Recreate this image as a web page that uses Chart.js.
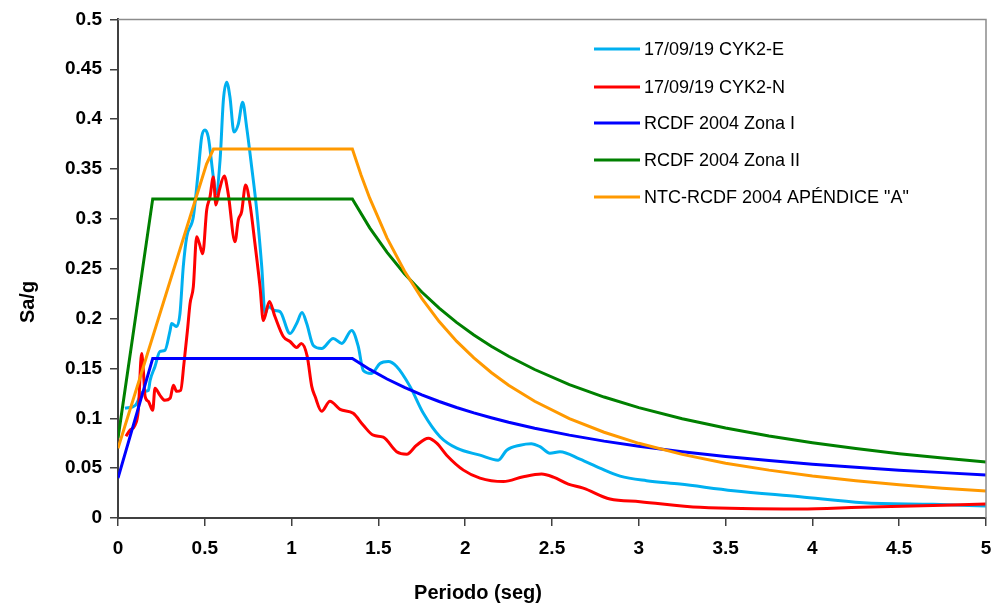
<!DOCTYPE html>
<html>
<head>
<meta charset="utf-8">
<script src="https://cdn.jsdelivr.net/npm/chart.js@4"></script>
<style>
  body { margin: 0; background: #fff; }
  canvas { display: block; }
</style>
</head>
<body>
<canvas id="chart" width="992" height="604"></canvas>
<script>
// Espectros registrados
const periodoE = [0.04, 0.10, 0.145, 0.175, 0.185, 0.213, 0.242, 0.27, 0.30, 0.309, 0.338, 0.357, 0.376, 0.396, 0.434, 0.463, 0.482, 0.501, 0.52, 0.549, 0.564, 0.588, 0.607, 0.626, 0.645, 0.668, 0.693, 0.718, 0.741, 0.77, 0.799, 0.828, 0.847, 0.866, 0.904, 0.933, 0.991, 1.029, 1.06, 1.087, 1.125, 1.173, 1.24, 1.289, 1.346, 1.384, 1.413, 1.46, 1.509, 1.557, 1.605, 1.682, 1.759, 1.855, 1.951, 2.085, 2.19, 2.239, 2.316, 2.38, 2.431, 2.488, 2.546, 2.661, 2.776, 2.892, 3.045, 3.237, 3.545, 3.929, 4.293, 4.697, 5.0];
const saE = [0.110, 0.113, 0.127, 0.128, 0.138, 0.152, 0.167, 0.168, 0.188, 0.195, 0.192, 0.205, 0.252, 0.282, 0.302, 0.349, 0.382, 0.389, 0.382, 0.342, 0.325, 0.359, 0.419, 0.437, 0.422, 0.387, 0.395, 0.417, 0.392, 0.352, 0.309, 0.252, 0.205, 0.212, 0.208, 0.207, 0.185, 0.195, 0.206, 0.195, 0.173, 0.170, 0.180, 0.175, 0.188, 0.172, 0.148, 0.145, 0.155, 0.157, 0.152, 0.132, 0.105, 0.0815, 0.070, 0.063, 0.058, 0.068, 0.073, 0.0745, 0.0715, 0.065, 0.0665, 0.059, 0.050, 0.042, 0.0374, 0.034, 0.0274, 0.0214, 0.0154, 0.0137, 0.012];

const periodoN = [0.046, 0.069, 0.098, 0.117, 0.136, 0.146, 0.156, 0.175, 0.20, 0.213, 0.242, 0.27, 0.30, 0.319, 0.338, 0.361, 0.38, 0.40, 0.415, 0.434, 0.453, 0.469, 0.488, 0.511, 0.53, 0.549, 0.564, 0.584, 0.612, 0.635, 0.674, 0.693, 0.712, 0.735, 0.76, 0.789, 0.818, 0.837, 0.872, 0.904, 0.952, 0.991, 1.029, 1.056, 1.09, 1.116, 1.135, 1.173, 1.221, 1.279, 1.355, 1.413, 1.471, 1.528, 1.605, 1.663, 1.72, 1.788, 1.836, 1.893, 1.99, 2.085, 2.22, 2.335, 2.44, 2.508, 2.594, 2.68, 2.834, 3.007, 3.353, 3.929, 4.274, 5.0];
const saN = [0.082, 0.088, 0.093, 0.108, 0.165, 0.148, 0.122, 0.117, 0.108, 0.130, 0.123, 0.118, 0.120, 0.133, 0.127, 0.128, 0.155, 0.188, 0.215, 0.232, 0.282, 0.275, 0.265, 0.309, 0.322, 0.342, 0.314, 0.329, 0.343, 0.325, 0.277, 0.299, 0.307, 0.334, 0.315, 0.275, 0.232, 0.198, 0.217, 0.202, 0.182, 0.177, 0.171, 0.175, 0.162, 0.132, 0.122, 0.107, 0.117, 0.109, 0.105, 0.093, 0.083, 0.081, 0.0665, 0.064, 0.073, 0.080, 0.075, 0.063, 0.048, 0.040, 0.0365, 0.0414, 0.044, 0.041, 0.034, 0.030, 0.019, 0.0164, 0.0107, 0.009, 0.0107, 0.014];

// Espectros de diseño
const periodoDiseno = [0, 0.2, 1.35, 1.45, 1.55, 1.65, 1.75, 1.85, 1.95, 2.05, 2.15, 2.25, 2.4, 2.6, 2.8, 3.0, 3.25, 3.5, 3.75, 4.0, 4.25, 4.5, 4.75, 5.0];
const saZonaI = [0.04, 0.16, 0.16, 0.149, 0.1394, 0.1309, 0.1234, 0.1168, 0.1108, 0.1054, 0.1005, 0.096, 0.09, 0.0831, 0.0771, 0.072, 0.0665, 0.0617, 0.0576, 0.054, 0.0508, 0.048, 0.0455, 0.0432];
const saZonaII = [0.08, 0.32, 0.32, 0.291, 0.2663, 0.245, 0.2266, 0.2105, 0.1962, 0.1836, 0.1723, 0.1622, 0.1489, 0.1338, 0.1213, 0.1107, 0.0995, 0.0902, 0.0822, 0.0755, 0.0696, 0.0645, 0.0601, 0.0561];

const periodoNTC = [0, 0.51, 0.55, 1.35, 1.4, 1.45, 1.55, 1.65, 1.75, 1.85, 1.95, 2.05, 2.15, 2.25, 2.4, 2.6, 2.8, 3.0, 3.25, 3.5, 3.75, 4.0, 4.25, 4.5, 4.75, 5.0];
const saNTC = [0.07, 0.355, 0.37, 0.37, 0.344, 0.3207, 0.2807, 0.2477, 0.2202, 0.197, 0.1773, 0.1605, 0.1459, 0.1332, 0.1171, 0.0997, 0.086, 0.0749, 0.0638, 0.055, 0.048, 0.0421, 0.0373, 0.0333, 0.0299, 0.027];

const etiquetas = ["17/09/19 CYK2-E", "17/09/19 CYK2-N", "RCDF 2004 Zona I", "RCDF 2004 Zona II", 'NTC-RCDF 2004 APÉNDICE "A"'];
const colores = ["#00B0F0", "#FF0000", "#0000FF", "#008000", "#FF9900"];

const puntos = (xs, ys) => xs.map((x, i) => ({ x: x, y: ys[i] }));

const FONT = "'Liberation Sans', Arial, sans-serif";
const AXIS = "#404040";

// Leyenda dentro del área de trazado
const leyendaPlugin = {
  id: "leyenda",
  afterDraw(chart) {
    const ctx = chart.ctx;
    const { left, top, right, bottom } = chart.chartArea;
    // marco superior y derecho
    ctx.save();
    ctx.strokeStyle = "#8c8c8c";
    ctx.lineWidth = 1.5;
    ctx.beginPath();
    ctx.moveTo(left, top);
    ctx.lineTo(right, top);
    ctx.lineTo(right, bottom);
    ctx.stroke();

    const filas = [49, 87, 123, 160, 197];
    chart.data.datasets.forEach((ds, i) => {
      ctx.strokeStyle = ds.borderColor;
      ctx.lineWidth = 3;
      ctx.beginPath();
      ctx.moveTo(594, filas[i]);
      ctx.lineTo(640, filas[i]);
      ctx.stroke();
      ctx.fillStyle = "#000";
      ctx.font = "18px " + FONT;
      ctx.textBaseline = "middle";
      ctx.textAlign = "left";
      ctx.fillText(ds.label, 644, filas[i] + 1);
    });

    // títulos de ejes
    ctx.font = "bold 20px " + FONT;
    ctx.fillStyle = "#000";
    ctx.textAlign = "center";
    ctx.textBaseline = "middle";
    ctx.fillText("Periodo (seg)", 478, 593);
    ctx.translate(28, 302);
    ctx.rotate(-Math.PI / 2);
    ctx.fillText("Sa/g", 0, 0);
    ctx.restore();
  },
};

const fmt = (v) => String(Math.round(v * 100) / 100);

new Chart(document.getElementById("chart"), {
  type: "line",
  data: {
    datasets: [
      { label: etiquetas[0], data: puntos(periodoE, saE), borderColor: colores[0], cubicInterpolationMode: "monotone", order: 5 },
      { label: etiquetas[1], data: puntos(periodoN, saN), borderColor: colores[1], cubicInterpolationMode: "monotone", order: 4 },
      { label: etiquetas[2], data: puntos(periodoDiseno, saZonaI), borderColor: colores[2], tension: 0, order: 3 },
      { label: etiquetas[3], data: puntos(periodoDiseno, saZonaII), borderColor: colores[3], tension: 0, order: 2 },
      { label: etiquetas[4], data: puntos(periodoNTC, saNTC), borderColor: colores[4], tension: 0, order: 1 },
    ],
  },
  options: {
    responsive: false,
    animation: false,
    layout: { padding: { top: 19, right: 6, left: 0, bottom: 0 } },
    elements: {
      point: { radius: 0 },
      line: { borderWidth: 3, fill: false },
    },
    plugins: { legend: { display: false }, tooltip: { enabled: false } },
    scales: {
      x: {
        type: "linear",
        min: 0,
        max: 5,
        afterFit: (s) => {
          s.height = 86;
          s.paddingRight = 0;
          s.paddingLeft = 0;
        },
        ticks: {
          stepSize: 0.5,
          callback: fmt,
          color: "#000",
          padding: 11,
          maxRotation: 0,
          font: { family: FONT, size: 19, weight: "bold" },
        },
        grid: { drawOnChartArea: false, drawTicks: true, tickLength: 8, color: AXIS, lineWidth: 1.5 },
        border: { color: AXIS, width: 2 },
      },
      y: {
        min: 0,
        max: 0.5,
        afterFit: (s) => { s.width = 118; },
        ticks: {
          stepSize: 0.05,
          callback: fmt,
          color: "#000",
          padding: 8,
          font: { family: FONT, size: 19, weight: "bold" },
        },
        grid: { drawOnChartArea: false, drawTicks: true, tickLength: 8, color: AXIS, lineWidth: 1.5 },
        border: { color: AXIS, width: 2 },
      },
    },
  },
  plugins: [leyendaPlugin],
});
</script>
</body>
</html>
